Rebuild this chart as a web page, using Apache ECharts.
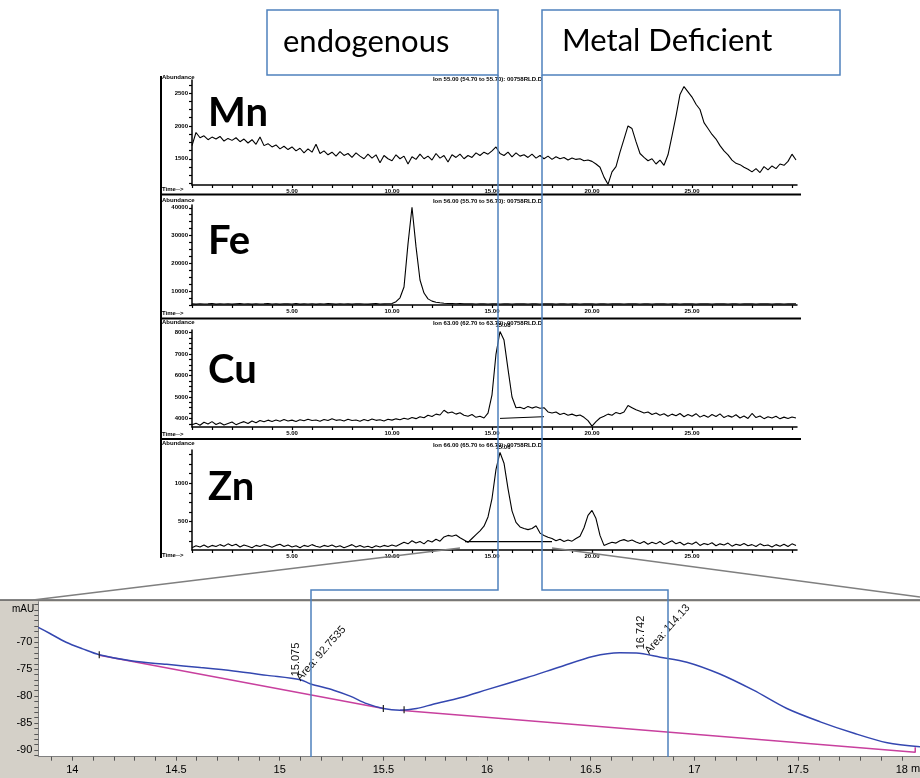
<!DOCTYPE html>
<html><head><meta charset="utf-8">
<script src="https://cdn.jsdelivr.net/npm/echarts@6/dist/echarts.min.js"></script>
<style>html,body{margin:0;padding:0;background:#fff}#c{width:920px;height:778px}</style>
</head><body><div id="c"></div>
<script>
// ---- sampling times (min) for the four ICP-MS traces ----
const times = [
 0,0.2,0.4,0.6,0.8,1,1.2,1.4,1.6,1.8,
 2,2.2,2.4,2.6,2.8,3,3.2,3.4,3.6,3.8,
 4,4.2,4.4,4.6,4.8,5,5.2,5.4,5.6,5.8,
 6,6.2,6.4,6.6,6.8,7,7.2,7.4,7.6,7.8,
 8,8.2,8.4,8.6,8.8,9,9.2,9.4,9.6,9.8,
 10,10.2,10.4,10.6,10.8,11,11.2,11.4,11.6,11.8,
 12,12.2,12.4,12.6,12.8,13,13.2,13.4,13.6,13.8,
 14,14.2,14.4,14.6,14.8,15,15.2,15.4,15.6,15.8,
 16,16.2,16.4,16.6,16.8,17,17.2,17.4,17.6,17.8,
 18,18.2,18.4,18.6,18.8,19,19.2,19.4,19.6,19.8,
 20,20.2,20.4,20.6,20.8,21,21.2,21.4,21.6,21.8,
 22,22.2,22.4,22.6,22.8,23,23.2,23.4,23.6,23.8,
 24,24.2,24.4,24.6,24.8,25,25.2,25.4,25.6,25.8,
 26,26.2,26.4,26.6,26.8,27,27.2,27.4,27.6,27.8,
 28,28.2,28.4,28.6,28.8,29,29.2,29.4,29.6,29.8,
 30,30.2];

const mnValues = [
 1700,1900,1820,1850,1790,1830,1800,1840,1770,1810,
 1780,1820,1760,1800,1740,1790,1720,1830,1700,1730,
 1680,1710,1650,1690,1640,1680,1620,1660,1590,1650,
 1600,1720,1580,1620,1560,1600,1540,1610,1550,1580,
 1520,1590,1540,1500,1570,1510,1560,1440,1550,1500,
 1470,1560,1500,1540,1420,1530,1490,1570,1500,1540,
 1480,1580,1510,1550,1450,1560,1520,1570,1500,1550,
 1520,1590,1550,1600,1570,1620,1680,1580,1550,1600,
 1530,1590,1540,1560,1520,1570,1510,1550,1500,1540,
 1490,1530,1500,1520,1480,1510,1490,1500,1470,1480,
 1460,1420,1370,1220,1110,1300,1380,1600,1800,2000,
 1960,1760,1580,1520,1470,1500,1420,1480,1400,1560,
 1850,2150,2480,2600,2520,2440,2330,2250,2050,1960,
 1870,1800,1700,1620,1560,1480,1430,1410,1370,1340,
 1300,1350,1290,1380,1330,1390,1350,1420,1400,1460,
 1570,1480];

const feValues = [
 5400,5300,5450,5350,5400,5500,5300,5400,5350,5450,
 5300,5400,5500,5350,5400,5300,5450,5350,5400,5500,
 5350,5400,5300,5450,5400,5350,5500,5300,5400,5350,
 5450,5300,5400,5350,5500,5400,5300,5450,5350,5400,
 5300,5450,5400,5350,5300,5400,5500,5350,5400,5450,
 5500,6200,7600,11500,27000,40200,26000,14000,9300,7200,
 6400,6000,5800,5650,5550,5500,5450,5500,5400,5450,
 5400,5350,5450,5400,5350,5450,5400,5350,5400,5450,
 5350,5400,5450,5400,5350,5400,5450,5350,5400,5400,
 5450,5350,5400,5400,5350,5450,5400,5350,5400,5450,
 5400,5350,5400,5450,5350,5400,5450,5400,5350,5400,
 5450,5400,5350,5400,5450,5350,5400,5400,5450,5350,
 5400,5450,5350,5400,5400,5450,5350,5400,5450,5400,
 5350,5400,5450,5400,5350,5400,5450,5350,5400,5450,
 5400,5350,5400,5450,5400,5350,5400,5450,5350,5400,
 5400,5450];

const cuValues = [
 3700,3780,3680,3820,3740,3850,3720,3800,3690,3760,
 3830,3710,3790,3850,3760,3880,3800,3900,3840,3920,
 3860,3930,3870,3950,3880,3920,3860,3940,3890,3960,
 3900,3930,3870,3950,3900,3980,3910,3940,3880,3960,
 3900,3930,3870,3950,3890,3970,3910,3940,3880,3960,
 3920,3980,3940,4010,3960,4040,3990,4080,4030,4150,
 4090,4200,4160,4380,4250,4300,4200,4260,4150,4100,
 4180,4050,4100,4020,4250,5100,7000,8050,7650,6300,
 5000,4500,4520,4450,4560,4480,4540,4470,4500,4300,
 4250,4300,4180,4240,4150,4200,4120,4160,4050,3900,
 3640,3850,4020,4100,4200,4150,4280,4220,4300,4600,
 4500,4400,4330,4250,4300,4180,4250,4150,4220,4100,
 4200,4120,4230,4080,4180,4100,4220,4060,4150,4050,
 4180,4090,4210,4040,4130,4060,4170,4020,4110,4000,
 4230,4040,4110,3990,4080,4020,4100,3980,4060,4000,
 4070,4020];

const znValues = [
 160,185,170,195,165,190,175,200,180,210,
 185,205,170,195,180,160,190,175,200,185,
 165,190,205,175,195,170,185,160,190,175,
 200,180,165,190,175,195,170,185,160,180,
 200,170,190,165,180,160,185,170,190,175,
 195,180,205,230,210,250,220,240,210,255,
 235,270,245,300,320,310,325,290,260,230,
 280,330,380,440,560,800,1180,1400,1260,930,
 640,490,430,410,395,410,445,350,320,295,
 280,250,270,240,260,245,280,310,420,580,
 645,540,320,190,210,230,220,250,265,245,
 260,235,215,240,205,230,210,240,200,225,
 250,210,230,195,220,205,235,190,215,200,
 225,185,210,195,220,180,205,190,215,185,
 200,175,210,185,195,170,200,180,205,175,
 210,190];

const cuBaseline = [[15.4,4000],[17.6,4080]];
const znBaseline = [[13.65,240],[18.0,240]];

// ---- UV (mAU) zoomed trace ----
const uvTime = [13.836,13.89,13.97,14.05,14.13,14.29,14.455,14.616,14.777,14.94,15.10,15.147,15.26,15.34,15.42,15.5,15.58,15.66,15.74,15.87,16.0,16.19,16.35,16.51,16.64,16.72,16.835,16.964,17.12,17.285,17.446,17.607,17.77,17.93,18.088];
const uvValues = [-67.23,-68.34,-70.0,-71.23,-72.33,-73.5,-74.1,-74.7,-75.35,-76.15,-76.95,-77.7,-78.9,-80.0,-81.4,-82.3,-82.6,-82.3,-81.5,-80.3,-78.8,-76.6,-74.6,-72.65,-71.96,-72.0,-72.77,-73.7,-75.85,-78.9,-82.3,-84.77,-86.9,-88.65,-89.4];
const uvBaseline1 = [[14.13,-72.4],[15.5,-82.3]];
const uvBaseline2 = [[15.58,-82.6],[18.065,-90.43],[18.065,-89.5]];
const uvPeakMarks = [[14.13,-72.33],[15.5,-82.3],[15.6,-82.55]];

// ---- tick labels ----
const panelXLabels = [5,10,15,20,25];
const panelXTicks = [0,1,2,3,4,5,6,7,8,9,10,11,12,13,14,15,16,17,18,19,20,21,22,23,24,25,26,27,28,29,30];
const mnLabels = [1500,2000,2500];
const mnTicks = [1125,1250,1375,1500,1625,1750,1875,2000,2125,2250,2375,2500,2625];
const feLabels = [10000,20000,30000,40000];
const feTicks = [5000,7500,10000,12500,15000,17500,20000,22500,25000,27500,30000,32500,35000,37500,40000];
const cuLabels = [4000,5000,6000,7000,8000];
const cuTicks = [3750,4000,4250,4500,4750,5000,5250,5500,5750,6000,6250,6500,6750,7000,7250,7500,7750,8000];
const znLabels = [500,1000];
const znTicks = [250,375,500,625,750,875,1000,1125,1250,1375];
const uvXLabels = [14,14.5,15,15.5,16,16.5,17,17.5,18];
const uvYLabels = [-90,-85,-80,-75,-70];
const uvXTicks = []; for (let k = 139; k <= 180; k++) uvXTicks.push(k / 10);
const uvYTicks = []; for (let k = -91; k <= -63; k++) uvYTicks.push(k);

const elements = ['Mn','Fe','Cu','Zn'];
const ionHeaders = ['Ion 55.00 (54.70 to 55.70): 00758RLD.D','Ion 56.00 (55.70 to 56.70): 00758RLD.D','Ion 63.00 (62.70 to 63.70): 00758RLD.D','Ion 66.00 (65.70 to 66.70): 00758RLD.D'];

const chart = echarts.init(document.getElementById('c'), null, {renderer:'canvas'});
const tiny = {fontSize:6, fontWeight:'bold', color:'#000', fontFamily:'Liberation Sans'};

const panelTops = [80,205,330,450];
const panelHeights = [105,100,97,100];
const grids = panelTops.map((t,i)=>({left:192, top:t, width:605, height:panelHeights[i], containLabel:false, outerBoundsMode:'none'}));
grids.push({left:38.3, top:601.7, width:881.7, height:155, containLabel:false, outerBoundsMode:'none', show:true, backgroundColor:'#ffffff', borderWidth:0});

function panelX(g){
  return {type:'value', gridIndex:g, min:0, max:30.25,
    axisLine:{lineStyle:{color:'#000', width:1.5}},
    axisTick:{customValues:panelXTicks, length:3, lineStyle:{color:'#000', width:1.2}},
    axisLabel:Object.assign({customValues:panelXLabels, formatter:v=>v.toFixed(2), margin:3}, tiny),
    splitLine:{show:false}};
}
function panelY(g,min,max,ticks,labels){
  return {type:'value', gridIndex:g, min:min, max:max,
    axisLine:{show:true, lineStyle:{color:'#000', width:1.5}},
    axisTick:{show:true, customValues:ticks, length:3, lineStyle:{color:'#000', width:1.2}},
    axisLabel:Object.assign({customValues:labels, formatter:v=>String(v), margin:4}, tiny),
    splitLine:{show:false}};
}
const xAxes = [panelX(0),panelX(1),panelX(2),panelX(3),
  {type:'value', gridIndex:4, min:13.836, max:18.088,
   axisLine:{lineStyle:{color:'#808080', width:1}},
   axisTick:{customValues:uvXTicks, length:4, lineStyle:{color:'#555'}},
   axisLabel:{customValues:uvXLabels, formatter:v=>String(v), fontSize:11, color:'#000', fontFamily:'Liberation Sans', margin:8},
   splitLine:{show:false}}];
const yAxes = [panelY(0,1100,2700,mnTicks,mnLabels), panelY(1,5000,41000,feTicks,feLabels),
  panelY(2,3600,8120,cuTicks,cuLabels), panelY(3,130,1432,znTicks,znLabels),
  {type:'value', gridIndex:4, min:-91.24, max:-62.48,
   axisLine:{show:true, lineStyle:{color:'#808080', width:1}},
   axisTick:{show:true, customValues:uvYTicks, length:4, lineStyle:{color:'#555'}},
   axisLabel:{customValues:uvYLabels, formatter:v=>String(v), fontSize:11, color:'#000', fontFamily:'Liberation Sans', margin:6},
   splitLine:{show:false}}];

function trace(idx, vals){
  return {type:'line', xAxisIndex:idx, yAxisIndex:idx, data:times.map((t,i)=>[t, vals[i]]),
    symbol:'none', lineStyle:{color:'#000', width:1.1}, animation:false, silent:true};
}
const series = [trace(0,mnValues), trace(1,feValues), trace(2,cuValues), trace(3,znValues),
  {type:'line', xAxisIndex:2, yAxisIndex:2, data:cuBaseline, symbol:'none', lineStyle:{color:'#000', width:1}, animation:false},
  {type:'line', xAxisIndex:3, yAxisIndex:3, data:znBaseline, symbol:'none', lineStyle:{color:'#000', width:1.2}, animation:false},
  {type:'line', xAxisIndex:4, yAxisIndex:4, data:uvBaseline1, symbol:'none', lineStyle:{color:'#c8409e', width:1.5}, animation:false},
  {type:'line', xAxisIndex:4, yAxisIndex:4, data:uvBaseline2, symbol:'none', lineStyle:{color:'#c8409e', width:1.5}, animation:false},
  {type:'line', xAxisIndex:4, yAxisIndex:4, data:uvTime.map((t,i)=>[t, uvValues[i]]), symbol:'none', smooth:0.3,
   lineStyle:{color:'#3447b0', width:1.5}, animation:false,
   markPoint:{symbol:'rect', symbolSize:[1.2,7], silent:true, label:{show:false}, itemStyle:{color:'#222'},
     data:uvPeakMarks.map(c=>({coord:c}))}}
];

chart.setOption({animation:false, backgroundColor:'#ffffff', grid:grids, xAxis:xAxes, yAxis:yAxes, series:series});

const blue = '#4f81bd';
const g = [];
// lower chart backdrop
g.push({type:'rect', z:-100, shape:{x:0,y:600,width:920,height:178}, style:{fill:'#d4d0c8'}});
g.push({type:'line', z:10, shape:{x1:0,y1:600,x2:920,y2:600}, style:{stroke:'#5a5a5a', lineWidth:1.5}});
// top panel frame lines
g.push({type:'line', z:10, shape:{x1:161,y1:76,x2:161,y2:558}, style:{stroke:'#000', lineWidth:2}});
[194.5,318.5,439].forEach(y=>g.push({type:'line', z:10, shape:{x1:161,y1:y,x2:801,y2:y}, style:{stroke:'#000', lineWidth:2}}));
// small texts per panel
const abundY = [77,200,322,443];
const timeY = [189,313,434,555];
const headerY = [79,201,323,445];
for (let i=0;i<4;i++){
  g.push({type:'text', z:20, style:{text:'Abundance', x:162, y:abundY[i], align:'left', verticalAlign:'middle', fill:'#000', fontSize:6, fontWeight:'bold', fontFamily:'Liberation Sans'}});
  g.push({type:'text', z:20, style:{text:'Time-->', x:162, y:timeY[i], align:'left', verticalAlign:'middle', fill:'#000', fontSize:6, fontWeight:'bold', fontFamily:'Liberation Sans'}});
  g.push({type:'text', z:20, style:{text:ionHeaders[i], x:542, y:headerY[i], align:'right', verticalAlign:'middle', fill:'#000', fontSize:6, fontWeight:'bold', fontFamily:'Liberation Sans'}});
}
// element labels
const elY = [113,241,370,487];
elements.forEach((e,i)=>g.push({type:'text', z:20, style:{text:e, x:208, y:elY[i], align:'left', verticalAlign:'middle', fill:'#000', fontSize:40, fontWeight:'bold', fontFamily:'Lato'}}));
// peak time labels above Cu and Zn
const cuPk = chart.convertToPixel({gridIndex:2}, [15.4, 8050]);
const znPk = chart.convertToPixel({gridIndex:3}, [15.4, 1400]);
g.push({type:'text', z:20, style:{text:'15.08', x:cuPk[0]+3, y:cuPk[1]-3, align:'center', verticalAlign:'bottom', fill:'#000', fontSize:6, fontWeight:'bold', fontFamily:'Liberation Sans'}});
g.push({type:'text', z:20, style:{text:'15.06', x:znPk[0]+3, y:znPk[1]-2, align:'center', verticalAlign:'bottom', fill:'#000', fontSize:6, fontWeight:'bold', fontFamily:'Liberation Sans'}});
// gray zoom lines
g.push({type:'line', z:30, shape:{x1:460,y1:548,x2:33,y2:600}, style:{stroke:'#7f7f7f', lineWidth:1.5}});
g.push({type:'line', z:30, shape:{x1:552,y1:548,x2:920,y2:597}, style:{stroke:'#7f7f7f', lineWidth:1.5}});
// lower chart texts
g.push({type:'text', z:20, style:{text:'mAU', x:12, y:609, align:'left', verticalAlign:'middle', fill:'#000', fontSize:10, fontFamily:'Liberation Sans'}});
g.push({type:'text', z:20, style:{text:'min', x:911, y:769, align:'left', verticalAlign:'middle', fill:'#000', fontSize:11, fontFamily:'Liberation Sans'}});
// peak annotations (positioned from data)
function ann(text, t, v, rot){
  const p = chart.convertToPixel({gridIndex:4}, [t, v]);
  g.push({type:'text', z:25, x:p[0], y:p[1], rotation:rot, style:{text:text, x:0, y:0, align:'center', verticalAlign:'middle', fill:'#111', fontSize:11, fontFamily:'Liberation Sans'}});
}
ann('15.075', 15.079, -73.2, Math.PI/2);
ann('Area: 92.7535', 15.2, -72.1, 0.85);
ann('16.742', 16.744, -68.2, Math.PI/2);
ann('Area: 114.13', 16.87, -67.6, 0.85);
// blue overlay boxes and brackets
g.push({type:'rect', z:100, shape:{x:267,y:10,width:231,height:65}, style:{fill:'none', stroke:blue, lineWidth:1.5}});
g.push({type:'rect', z:100, shape:{x:542,y:10,width:298,height:65}, style:{fill:'none', stroke:blue, lineWidth:1.5}});
g.push({type:'polyline', z:100, shape:{points:[[498,75],[498,590],[311,590],[311,757]]}, style:{fill:'none', stroke:blue, lineWidth:1.5}});
g.push({type:'polyline', z:100, shape:{points:[[542,75],[542,590],[668,590],[668,757]]}, style:{fill:'none', stroke:blue, lineWidth:1.5}});
g.push({type:'text', z:101, style:{text:'endogenous', x:283, y:42, align:'left', verticalAlign:'middle', fill:'#000', fontSize:31, fontFamily:'Lato'}});
g.push({type:'text', z:101, style:{text:'Metal Deficient', x:562, y:41, align:'left', verticalAlign:'middle', fill:'#000', fontSize:31, fontFamily:'Lato'}});

chart.setOption({graphic:{elements:g}});
</script></body></html>
